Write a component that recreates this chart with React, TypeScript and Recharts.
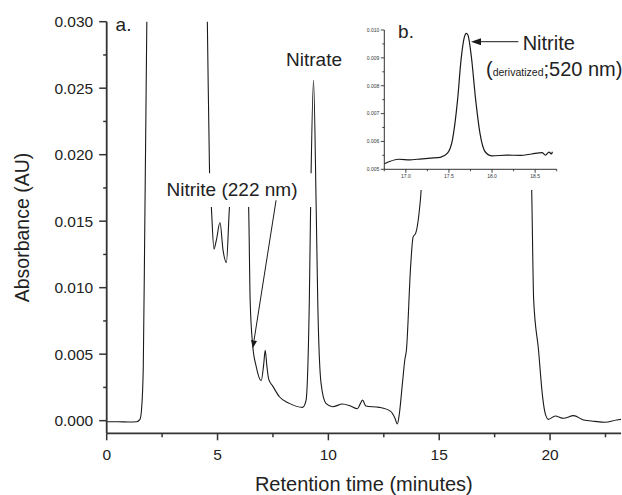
import React from "react";
import {
  LineChart,
  Line,
  XAxis,
  YAxis,
  ReferenceArea,
  ReferenceDot,
  ReferenceLine,
} from "recharts";

// main chromatogram (222 nm), minutes vs AU
const mainTime = [
  0, 0.5, 1.0, 1.35, 1.5, 1.57, 1.65, 1.72, 1.81, 1.9, 3.0, 4.3, 4.54, 4.64,
  4.72, 4.84, 4.95, 5.11, 5.25, 5.4, 5.54, 5.65, 6.0, 6.3, 6.4, 6.47, 6.59,
  6.74, 6.97, 7.08, 7.15, 7.22, 7.31, 7.49, 7.79, 8.24, 8.84, 8.99, 9.14, 9.22,
  9.33, 9.45, 9.52, 9.67, 9.89, 10.19, 10.64, 11.0, 11.31, 11.45, 11.54, 11.69,
  12.29, 12.81, 13.0, 13.11, 13.2, 13.34, 13.45, 13.52, 13.71, 13.82, 13.94,
  14.09, 14.19, 14.3, 14.6, 16.0, 18.9, 19.1, 19.17, 19.26, 19.48, 19.65,
  19.78, 19.93, 20.23, 20.61, 21.06, 21.51, 22.0, 22.48, 23.0, 23.2,
];
const mainAbs = [
  -0.00008, -0.00008, -0.0001, -0.00008, 0.0001, 0.0008, 0.004, 0.015, 0.03,
  0.045, 0.06, 0.05, 0.03, 0.0186, 0.0161, 0.0129, 0.0136, 0.0149, 0.0128,
  0.0119, 0.0161, 0.0178, 0.0182, 0.0178, 0.0161, 0.0091, 0.0056, 0.0041,
  0.003, 0.0042, 0.0053, 0.0042, 0.0031, 0.0026, 0.0018, 0.0013, 0.001, 0.0015,
  0.009, 0.0186, 0.0256, 0.016, 0.009, 0.0028, 0.0013, 0.00105, 0.00125,
  0.0011, 0.0009, 0.0013, 0.00155, 0.0011, 0.001, 0.0007, 0.0002, -0.00025,
  0.0005, 0.0028, 0.0046, 0.0053, 0.0116, 0.0138, 0.0141, 0.0156, 0.0175,
  0.022, 0.04, 0.05, 0.04, 0.022, 0.0175, 0.0091, 0.0053, 0.002, 0.00055,
  0.0001, 0.00035, 0.00018, 0.00038, 0.00005, -0.00005, -0.00012, 0.00005,
  0.0001,
];

// inset: derivatized nitrite at 520 nm
const insetTime = [
  16.75, 16.92, 17.05, 17.13, 17.29, 17.4, 17.48, 17.54, 17.6, 17.64, 17.68,
  17.7, 17.72, 17.76, 17.81, 17.86, 17.92, 18.0, 18.17, 18.33, 18.46, 18.58,
  18.62, 18.66, 18.69, 18.7,
];
const insetAbs = [
  0.0052, 0.00536, 0.00534, 0.00536, 0.0054, 0.00543, 0.00557, 0.00605,
  0.00749, 0.00892, 0.00976, 0.00988, 0.00982, 0.00904, 0.00749, 0.00629,
  0.00563, 0.00548, 0.00551, 0.0055, 0.00555, 0.0056, 0.00551, 0.00562,
  0.00555, 0.00563,
];

const mainXTicks = [0, 2.5, 5, 7.5, 10, 12.5, 15, 17.5, 20, 22.5];
const mainYTicks = [
  0, 0.0025, 0.005, 0.0075, 0.01, 0.0125, 0.015, 0.0175, 0.02, 0.0225, 0.025,
  0.0275, 0.03,
];
const insetXTicks = [16.75, 17, 17.25, 17.5, 17.75, 18, 18.25, 18.5, 18.75];
const insetYTicks = [
  0.005, 0.0055, 0.006, 0.0065, 0.007, 0.0075, 0.008, 0.0085, 0.009, 0.0095,
  0.01,
];

const mainData = mainTime.map((t, i) => ({ t, a: mainAbs[i] }));
const insetData = insetTime.map((t, i) => ({ t, a: insetAbs[i] }));

const FONT = "'Liberation Sans', Arial, Helvetica, sans-serif";
const AXIS = "#333";
const INK = "#1a1a1a";

const MainXTick = (props: any) => {
  const { x, y, payload } = props;
  const major = payload.value % 5 === 0;
  return (
    <g>
      <line x1={x} x2={x} y1={y} y2={y + (major ? 7 : 4)} stroke={AXIS} strokeWidth={1.5} />
      {major && (
        <text x={x} y={y + 27} textAnchor="middle" fontSize={15.5} fill="#222" fontFamily={FONT}>
          {payload.value}
        </text>
      )}
    </g>
  );
};

const MainYTick = (props: any) => {
  const { x, y, payload } = props;
  const major = Math.round(payload.value * 10000) % 50 === 0;
  return (
    <g>
      <line x1={x} x2={x - (major ? 7.5 : 3.5)} y1={y} y2={y} stroke={AXIS} strokeWidth={1.5} />
      {major && (
        <text x={x - 13.5} y={y + 5.5} textAnchor="end" fontSize={15.5} fill="#222" fontFamily={FONT}>
          {payload.value.toFixed(3)}
        </text>
      )}
    </g>
  );
};

const InsetXTick = (props: any) => {
  const { x, y, payload } = props;
  const major = Math.round(payload.value * 100) % 50 === 0;
  return (
    <g>
      <line x1={x} x2={x} y1={y} y2={y + (major ? 3.5 : 2)} stroke={INK} strokeWidth={0.8} />
      {major && (
        <text x={x} y={y + 9} textAnchor="middle" fontSize={5} fill="#333" fontFamily={FONT}>
          {payload.value.toFixed(1)}
        </text>
      )}
    </g>
  );
};

const InsetYTick = (props: any) => {
  const { x, y, payload } = props;
  const major = Math.round(payload.value * 10000) % 10 === 0;
  return (
    <g>
      <line x1={x} x2={x - (major ? 3.5 : 2)} y1={y} y2={y} stroke={INK} strokeWidth={0.8} />
      {major && (
        <text x={x - 5} y={y + 1.8} textAnchor="end" fontSize={5} fill="#333" fontFamily={FONT}>
          {payload.value.toFixed(3)}
        </text>
      )}
    </g>
  );
};

const textShape = (label: React.ReactNode, size = 19) => (props: any) => (
  <text x={props.cx} y={props.cy} fontSize={size} fill="#222" fontFamily={FONT}>
    {label}
  </text>
);

const arrowShape = (len: number, half: number) => (props: any) => {
  const { x1, y1, x2, y2 } = props;
  const ang = Math.atan2(y2 - y1, x2 - x1);
  const bx = x2 - len * Math.cos(ang);
  const by = y2 - len * Math.sin(ang);
  const px = half * Math.sin(ang);
  const py = half * Math.cos(ang);
  return (
    <g>
      <line x1={x1} y1={y1} x2={bx} y2={by} stroke={INK} strokeWidth={1} />
      <polygon points={`${x2},${y2} ${bx - px},${by + py} ${bx + px},${by - py}`} fill={INK} />
    </g>
  );
};

export default function App() {
  return (
    <div style={{ position: "absolute", left: 0, top: 0, width: 622, height: 495, background: "#fff" }}>
      <LineChart
        width={622}
        height={495}
        data={mainData}
        margin={{ top: 21.7, right: 1, bottom: 0, left: 0 }}
      >
        <XAxis
          type="number"
          dataKey="t"
          domain={[0, 23.2]}
          allowDataOverflow
          ticks={mainXTicks}
          interval={0}
          height={61.7}
          tick={<MainXTick />}
          tickLine={false}
          tickSize={0}
          tickMargin={0}
          axisLine={{ stroke: AXIS, strokeWidth: 1.8 }}
          label={{
            value: "Retention time (minutes)",
            position: "insideBottom",
            offset: 4,
            style: { fontSize: 20, fill: "#222", fontFamily: FONT },
          }}
        />
        <YAxis
          type="number"
          domain={[-0.00095, 0.03]}
          allowDataOverflow
          ticks={mainYTicks}
          interval={0}
          width={106.7}
          tick={<MainYTick />}
          tickLine={false}
          tickSize={0}
          tickMargin={0}
          axisLine={{ stroke: AXIS, strokeWidth: 1.8 }}
          label={{
            value: "Absorbance (AU)",
            angle: -90,
            position: "insideLeft",
            offset: 22,
            style: { fontSize: 19.5, fill: "#222", fontFamily: FONT, textAnchor: "middle" },
          }}
        />
        <Line
          type="monotone"
          dataKey="a"
          stroke={INK}
          strokeWidth={1.1}
          dot={false}
          activeDot={false}
          isAnimationActive={false}
        />
        <ReferenceArea
          x1={2.53}
          x2={9.28}
          y1={0.01607}
          y2={0.0186}
          fill="#fff"
          fillOpacity={1}
          stroke="none"
          zIndex={1500}
        />
        <ReferenceDot x={2.7} y={0.01687} r={0} shape={textShape("Nitrite (222 nm)")} zIndex={1600} />
        <ReferenceDot x={8.09} y={0.0267} r={0} shape={textShape("Nitrate")} zIndex={1600} />
        <ReferenceDot x={0.4} y={0.02933} r={0} shape={textShape("a.")} zIndex={1600} />
        <ReferenceLine
          segment={[
            { x: 7.64, y: 0.01657 },
            { x: 6.59, y: 0.00544 },
          ]}
          shape={arrowShape(8, 3)}
          zIndex={1600}
        />
      </LineChart>

      <div style={{ position: "absolute", left: 360, top: 0, width: 262, height: 190, background: "#fff" }}>
        <LineChart
          width={262}
          height={190}
          data={insetData}
          margin={{ top: 30, right: 65.3, bottom: 0, left: 0 }}
        >
          <XAxis
            type="number"
            dataKey="t"
            domain={[16.75, 18.75]}
            allowDataOverflow
            ticks={insetXTicks}
            interval={0}
            height={20.7}
            tick={<InsetXTick />}
            tickLine={false}
            tickSize={0}
            tickMargin={0}
            axisLine={{ stroke: INK, strokeWidth: 0.9 }}
          />
          <YAxis
            type="number"
            domain={[0.005, 0.01]}
            allowDataOverflow
            ticks={insetYTicks}
            interval={0}
            width={24.3}
            tick={<InsetYTick />}
            tickLine={false}
            tickSize={0}
            tickMargin={0}
            axisLine={{ stroke: INK, strokeWidth: 0.9 }}
          />
          <Line
            type="monotone"
            dataKey="a"
            stroke={INK}
            strokeWidth={1.2}
            dot={false}
            activeDot={false}
            isAnimationActive={false}
          />
          <ReferenceDot x={16.91} y={0.00971} r={0} shape={textShape("b.")} zIndex={1600} />
          <ReferenceDot x={18.355} y={0.00928} r={0} shape={textShape("Nitrite", 20)} zIndex={1600} />
          <ReferenceDot
            x={17.93}
            y={0.00835}
            r={0}
            shape={textShape(
              <>
                <tspan>(</tspan>
                <tspan fontSize={10.5}>derivatized</tspan>
                <tspan>;520 nm)</tspan>
              </>,
              20
            )}
            zIndex={1600}
          />
          <ReferenceLine
            segment={[
              { x: 18.305, y: 0.00958 },
              { x: 17.756, y: 0.00958 },
            ]}
            shape={arrowShape(10, 3.5)}
            zIndex={1600}
          />
        </LineChart>
      </div>
    </div>
  );
}
